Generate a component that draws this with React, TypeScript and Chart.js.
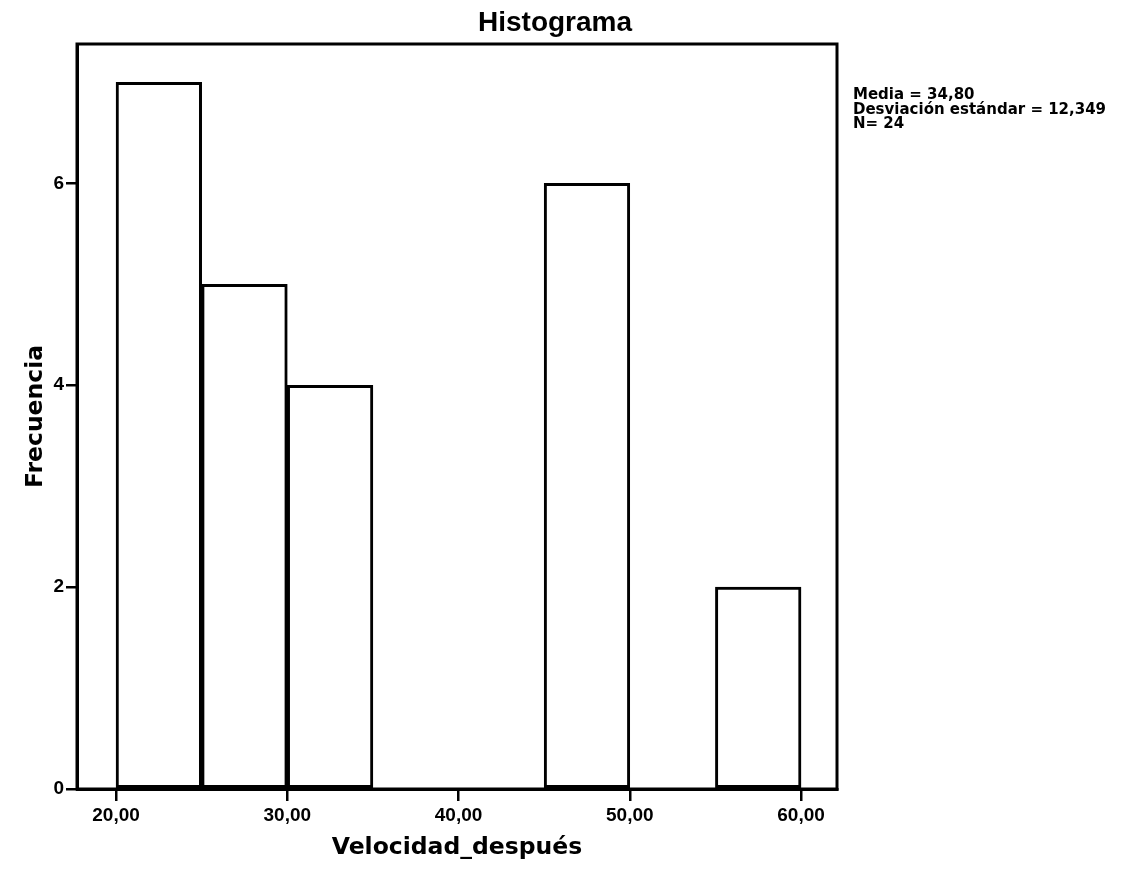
import React, { useEffect, useRef } from 'react';
import { Chart, registerables } from 'chart.js';

Chart.register(...registerables);

// ---- data ----
const binStarts = [20, 25, 30, 45, 55];
const binWidth = 5;
const frequencies = [7, 5, 4, 6, 2];
const xTickValues = [20, 30, 40, 50, 60];
const yTickValues = [0, 2, 4, 6];
const chartTitle = 'Histograma';
const xTitle = 'Velocidad_después';
const yTitle = 'Frecuencia';
const statsLines = ['Media = 34,80', 'Desviación estándar = 12,349', 'N= 24'];
const xRange = [17.72, 62.1];
const yRange = [0, 7.38];

const framePlugin = {
  id: 'frameAndText',
  afterDraw(chart: any) {
    const { ctx, chartArea } = chart;
    ctx.save();
    ctx.strokeStyle = '#000';
    ctx.lineWidth = 3;
    ctx.strokeRect(chartArea.left, chartArea.top, chartArea.right - chartArea.left, chartArea.bottom - chartArea.top);
    // title
    ctx.fillStyle = '#000';
    ctx.font = 'bold 28px "Liberation Sans", Arial, sans-serif';
    ctx.textAlign = 'center';
    ctx.textBaseline = 'alphabetic';
    ctx.fillText(chartTitle, 555, 31);
    // stats
    ctx.font = 'bold 15px "DejaVu Sans", sans-serif';
    ctx.textAlign = 'left';
    const x0 = chartArea.right + 16;
    statsLines.forEach((line, i) => {
      ctx.fillText(line, x0, 99 + i * 14.5);
    });
    ctx.restore();
  },
};

export default function App() {
  const ref = useRef<HTMLCanvasElement>(null);
  useEffect(() => {
    document.body.style.margin = '0';
    const data = binStarts.map((s, i) => ({ x: s + binWidth / 2, y: frequencies[i] }));
    const tickFont = { family: '"Liberation Sans", Arial, sans-serif', size: 19, weight: 'bold' as const };
    const titleFont = { family: '"DejaVu Sans", sans-serif', size: 23.5, weight: 'bold' as const };
    const chart = new Chart(ref.current!, {
      type: 'bar',
      data: {
        datasets: [
          {
            data: data as any,
            backgroundColor: '#ffffff',
            borderColor: '#000000',
            borderWidth: 3,
            borderSkipped: false,
            barPercentage: 1,
            categoryPercentage: 1,
          },
        ],
      },
      options: {
        animation: false,
        responsive: false,
        devicePixelRatio: 1,
        layout: { padding: { top: 44, right: 285, left: 0, bottom: 0 } },
        plugins: { legend: { display: false }, tooltip: { enabled: false }, title: { display: false } },
        scales: {
          x: {
            type: 'linear',
            offset: false,
            min: xRange[0],
            max: xRange[1],
            afterBuildTicks: (s: any) => {
              s.ticks = xTickValues.map((v) => ({ value: v }));
            },
            afterFit: (s: any) => {
              s.height = 89;
            },
            ticks: {
              callback: (v: any) => Number(v).toFixed(2).replace('.', ','),
              font: tickFont,
              color: '#000',
              padding: 3,
              maxRotation: 0,
              autoSkip: false,
            },
            grid: { offset: false, drawOnChartArea: false, drawTicks: true, tickLength: 12, color: '#000', lineWidth: 2.5 },
            border: { display: true, color: '#000', width: 3 },
            title: { display: true, text: xTitle, font: titleFont, color: '#000', padding: { top: 0, bottom: 16 } },
          },
          y: {
            type: 'linear',
            min: yRange[0],
            max: yRange[1],
            afterBuildTicks: (s: any) => {
              s.ticks = yTickValues.map((v) => ({ value: v }));
            },
            afterFit: (s: any) => {
              s.width = 77;
            },
            ticks: { font: tickFont, color: '#000', padding: 2, autoSkip: false },
            grid: { drawOnChartArea: false, drawTicks: true, tickLength: 11, color: '#000', lineWidth: 2.5 },
            border: { display: true, color: '#000', width: 3 },
            title: { display: true, text: yTitle, font: titleFont, color: '#000', padding: { top: 22, bottom: 0 } },
          },
        },
      },
      plugins: [framePlugin],
    });
    return () => chart.destroy();
  }, []);
  return (
    <div style={{ width: 1122, height: 878 }}>
      <canvas ref={ref} width={1122} height={878} style={{ display: 'block' }} />
    </div>
  );
}
